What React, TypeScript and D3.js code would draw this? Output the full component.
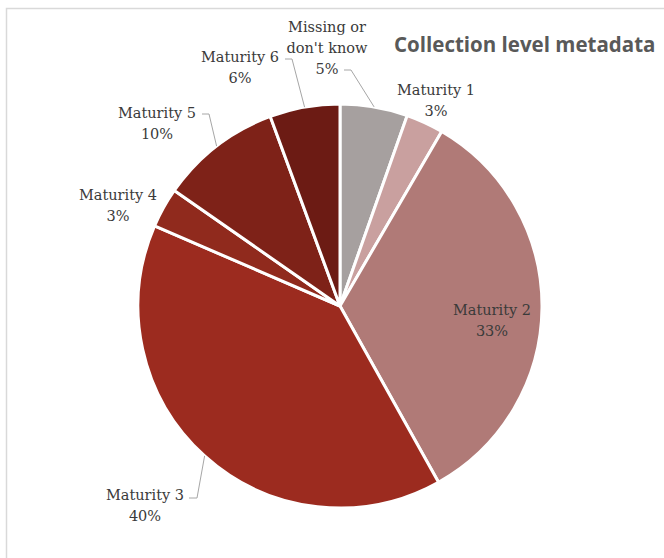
import React from "react";
import * as d3 from "d3";

const categories = ["Missing or don't know", "Maturity 1", "Maturity 2", "Maturity 3", "Maturity 4", "Maturity 5", "Maturity 6"];
const values = [5.4, 3.0, 33.49, 39.6, 3.2, 9.7, 5.61];
const colors = ["#A6A09F", "#C9A09F", "#B07A77", "#9C2B1F", "#902A1D", "#7E2218", "#6C1B14"];
const title = "Collection level metadata";

// label layout: text lines, center x, first-line baseline y, optional leader elbow
type LabelLayout = { lines: string[]; x: number; y: number; elbow?: [number, number]; elbowEnd?: [number, number] };

const W = 664;
const H = 558;
const cx = 340;
const cy = 306;
const R = 202;

export default function App() {
  const pie = d3.pie<number>().sort(null).value((d) => d)(values);
  const arc = d3.arc<d3.PieArcDatum<number>>().innerRadius(0).outerRadius(R);
  const outerPt = (d: d3.PieArcDatum<number>, r: number) => {
    const a = (d.startAngle + d.endAngle) / 2;
    return [cx + r * Math.sin(a), cy - r * Math.cos(a)];
  };
  const pct = (v: number) => `${Math.round(v)}%`;

  const layouts: LabelLayout[] = [
    { lines: ["Missing or", "don't know", pct(values[0])], x: 327, y: 32, elbow: [344, 70], elbowEnd: [351, 70] },
    { lines: [categories[1], pct(values[1])], x: 436, y: 95 },
    { lines: [categories[2], pct(values[2])], x: 492, y: 315 },
    { lines: [categories[3], pct(values[3])], x: 145, y: 500, elbow: [189, 498], elbowEnd: [197, 498] },
    { lines: [categories[4], pct(values[4])], x: 118, y: 200 },
    { lines: [categories[5], pct(values[5])], x: 157, y: 118, elbow: [202, 114], elbowEnd: [209, 114] },
    { lines: [categories[6], pct(values[6])], x: 240, y: 62, elbow: [285, 59], elbowEnd: [292, 59] },
  ];

  return (
    <svg width={W} height={H} style={{ position: "fixed", left: 0, top: 0, display: "block", background: "#fff" }}>
      <rect x={6.5} y={8.5} width={700} height={600} fill="#fff" stroke="#D9D9D9" strokeWidth={1.5} />
      <g transform={`translate(${cx},${cy})`}>
        {pie.map((d, i) => (
          <path key={i} d={arc(d) || ""} fill={colors[i]} stroke="#fff" strokeWidth={3} strokeLinejoin="round" />
        ))}
      </g>
      {pie.map((d, i) => {
        const L = layouts[i];
        if (!L.elbow || !L.elbowEnd) return null;
        const p = outerPt(d, R);
        return (
          <polyline
            key={"l" + i}
            points={`${L.elbow[0]},${L.elbow[1]} ${L.elbowEnd[0]},${L.elbowEnd[1]} ${p[0]},${p[1]}`}
            fill="none"
            stroke="#A6A6A6"
            strokeWidth={1}
          />
        );
      })}
      {layouts.map((L, i) => (
        <text key={"t" + i} x={L.x} y={L.y} textAnchor="middle" fontFamily="'DejaVu Serif', serif" fontSize={14.5} fill="#3A3A3A">
          {L.lines.map((ln, j) => (
            <tspan key={j} x={L.x} dy={j === 0 ? 0 : 21}>
              {ln}
            </tspan>
          ))}
        </text>
      ))}
      <text x={394} y={52} fontFamily="'Open Sans', sans-serif" fontWeight={700} fontSize={20.5} fill="#595959">
        {title}
      </text>
    </svg>
  );
}
